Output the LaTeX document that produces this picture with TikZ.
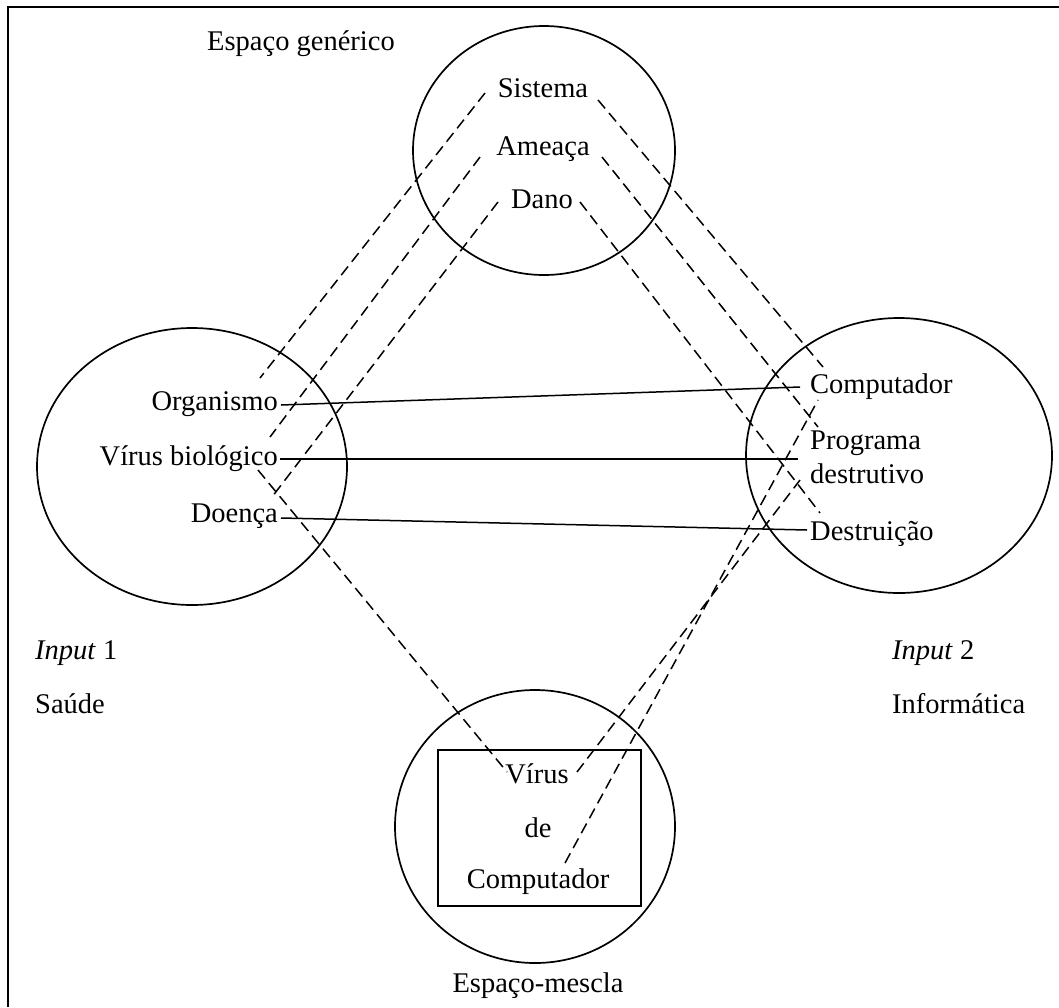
\documentclass[tikz,border=0pt]{standalone}
\usepackage{fontspec}
\setmainfont{Liberation Serif}
\begin{document}
\begin{tikzpicture}[x=1pt,y=-1pt,
  every node/.style={inner sep=0pt, font=\fontsize{28.5}{34}\selectfont},
  ring/.style={draw, line width=1.7pt},
  link/.style={draw, line width=1.5pt},
  maplink/.style={draw, line width=1.5pt, dash pattern=on 11pt off 6pt},
  frameline/.style={draw, line width=2.2pt}]
\useasboundingbox (0,0) rectangle (1059,1007);

% frame
\draw[frameline] (1059,7) -- (8,7) -- (8,1007);

% mental spaces
\draw[ring] (544,150.5) ellipse [x radius=131pt, y radius=124.5pt];
\draw[ring] (192,466.5) ellipse [x radius=155pt, y radius=138.5pt];
\draw[ring] (899,455.5) ellipse [x radius=153pt, y radius=137.5pt];
\draw[ring] (535,826.5) ellipse [x radius=140pt, y radius=136.5pt];
\node[draw, line width=1.7pt, minimum width=203pt, minimum height=156pt] (blendbox) at (539.5,828) {};

% labels of the spaces
\node[anchor=base west] (gen) at (207,50) {Espaço genérico};
\node[anchor=base] (mescla) at (538,992) {Espaço-mescla};
\node[anchor=base west] (in1) at (35,659) {\textit{Input} 1};
\node[anchor=base west] (sau) at (35,713) {Saúde};
\node[anchor=base west] (in2) at (892,659) {\textit{Input} 2};
\node[anchor=base west] (inf) at (892,713) {Informática};

% generic space
\node[anchor=base] (sis) at (543,97) {Sistema};
\node[anchor=base] (ame) at (543,155) {Ameaça};
\node[anchor=base] (dano) at (542,208) {Dano};

% input 1
\node[anchor=base east] (org) at (278,410) {Organismo};
\node[anchor=base east] (vbio) at (278,465) {Vírus biológico};
\node[anchor=base east] (doe) at (278,522) {Doença};

% input 2
\node[anchor=base west] (comp) at (810,393) {Computador};
\node[anchor=west, align=left] (prog) at (810,457.5) {Programa\\destrutivo};
\node[anchor=base west] (dest) at (810,540) {Destruição};

% blend
\node[anchor=base] (vir) at (537,783) {Vírus};
\node[anchor=base] (de) at (538,837) {de};
\node[anchor=base] (vcomp) at (538,888) {Computador};

% cross-space mappings
\draw[link] ([shift={(3,-5)}]org.base east) -- ([shift={(-10,-6)}]comp.base west);
\draw[link] ([shift={(2,-6)}]vbio.base east) -- ([shift={(-12,1.5)}]prog.west);
\draw[link] ([shift={(3,-4)}]doe.base east) -- ([shift={(-3,-10)}]dest.base west);

% generic space to input 1
\draw[maplink] ([shift={(-58,-4)}]sis.base) -- ([shift={(-18,-32)}]org.base east);
\draw[maplink] ([shift={(-63,2)}]ame.base) -- ([shift={(-8,-28)}]vbio.base east);
\draw[maplink] ([shift={(-44,-6)}]dano.base) -- ([shift={(-6,-25)}]doe.base east);

% generic space to input 2
\draw[maplink] ([shift={(55,3)}]sis.base) -- ([shift={(13,-26)}]comp.base west);
\draw[maplink] ([shift={(59,2)}]ame.base) -- ([shift={(8,-30.5)}]prog.west);
\draw[maplink] ([shift={(38,-6)}]dano.base) -- ([shift={(10,-27)}]dest.base west);

% projections into the blend
\draw[maplink] ([shift={(-20,5)}]vbio.base east) -- ([shift={(-30,-11)}]vir.base);
\draw[maplink] ([shift={(40,-11)}]vir.base) -- ([shift={(-10,22.5)}]prog.west);
\draw[maplink] ([shift={(27,-25)}]vcomp.base) -- ([shift={(8,7)}]comp.base west);
\end{tikzpicture}
\end{document}
